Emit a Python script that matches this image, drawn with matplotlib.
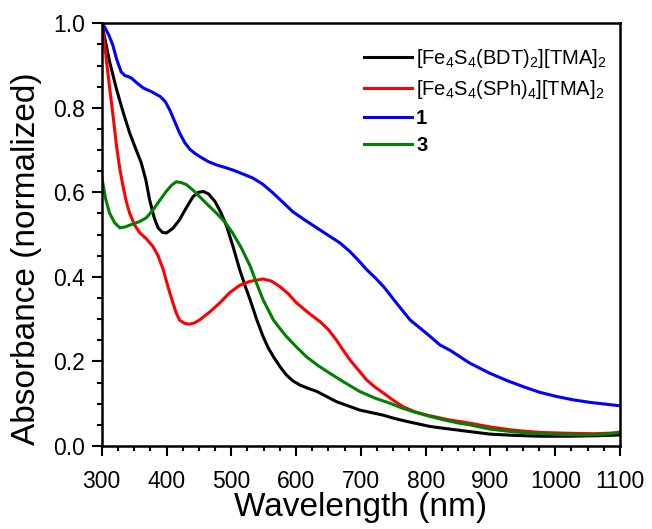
import matplotlib
matplotlib.use('Agg')
import matplotlib.pyplot as plt
from matplotlib.ticker import MultipleLocator

plt.rcParams['font.family'] = ['Liberation Sans', 'DejaVu Sans']
plt.rcParams['mathtext.fontset'] = 'custom'
plt.rcParams['mathtext.rm'] = 'Liberation Sans'
plt.rcParams['mathtext.bf'] = 'Liberation Sans:bold'

# Spectra (wavelength in nm, normalized absorbance)
bdt_wl = [300, 302, 312, 323, 333, 343, 352, 361, 368, 374, 381, 387, 394, 400, 410,
          420, 430, 441, 449, 457, 465, 475, 484, 493, 503, 513, 521, 529, 539, 549,
          557, 565, 575, 585, 595, 606, 619, 632, 647, 662, 680, 698, 716, 734, 752,
          771, 789, 807, 837, 868, 899, 937, 976, 1020, 1060, 1100]
bdt_abs = [1.0, 0.985, 0.91, 0.843, 0.79, 0.741, 0.705, 0.670, 0.630, 0.582, 0.540, 0.516,
           0.505, 0.504, 0.515, 0.535, 0.562, 0.590, 0.600, 0.602, 0.596, 0.578, 0.552,
           0.519, 0.470, 0.417, 0.380, 0.346, 0.300, 0.259, 0.232, 0.211, 0.188, 0.168,
           0.154, 0.144, 0.136, 0.129, 0.117, 0.105, 0.095, 0.085, 0.079, 0.073, 0.065,
           0.058, 0.052, 0.046, 0.040, 0.034, 0.028, 0.025, 0.023, 0.023, 0.024, 0.026]

sph_wl = [300, 306, 312, 318, 323, 328, 333, 338, 343, 351, 359, 369, 379, 387, 395,
          402, 410, 415, 420, 428, 435, 443, 451, 466, 482, 497, 513, 528, 538, 549,
          562, 575, 588, 601, 619, 637, 650, 662, 672, 683, 696, 709, 722, 735, 750,
          765, 783, 802, 835, 868, 899, 937, 976, 1020, 1060, 1100]
sph_abs = [1.0, 0.93, 0.85, 0.775, 0.708, 0.655, 0.614, 0.578, 0.551, 0.522, 0.504, 0.490,
           0.472, 0.450, 0.417, 0.378, 0.338, 0.315, 0.298, 0.290, 0.288, 0.291, 0.298,
           0.316, 0.338, 0.362, 0.380, 0.389, 0.392, 0.395, 0.390, 0.377, 0.360, 0.338,
           0.315, 0.294, 0.275, 0.251, 0.228, 0.204, 0.180, 0.156, 0.139, 0.125, 0.108,
           0.093, 0.081, 0.073, 0.062, 0.054, 0.045, 0.037, 0.032, 0.030, 0.029, 0.031]

c1_wl = [300, 305, 311, 317, 323, 330, 336, 341, 346, 355, 364, 377, 390, 398, 405,
         412, 420, 428, 436, 444, 451, 464, 477, 490, 502, 517, 533, 548, 564, 580,
         595, 613, 632, 650, 668, 683, 698, 709, 722, 735, 755, 776, 792, 807, 822,
         838, 853, 868, 899, 925, 951, 976, 1002, 1028, 1054, 1077, 1100]
c1_abs = [1.0, 0.99, 0.972, 0.949, 0.915, 0.885, 0.876, 0.874, 0.870, 0.858, 0.847, 0.838,
          0.827, 0.815, 0.795, 0.770, 0.741, 0.718, 0.702, 0.692, 0.685, 0.673, 0.665,
          0.659, 0.653, 0.644, 0.634, 0.620, 0.599, 0.576, 0.554, 0.535, 0.516, 0.498,
          0.480, 0.460, 0.436, 0.417, 0.398, 0.377, 0.338, 0.298, 0.278, 0.259, 0.239,
          0.226, 0.211, 0.196, 0.172, 0.155, 0.140, 0.127, 0.117, 0.109, 0.103, 0.099,
          0.095]

c3_wl = [300, 306, 312, 320, 328, 336, 344, 352, 360, 369, 380, 390, 400, 408, 415,
         423, 431, 441, 451, 464, 477, 490, 502, 515, 529, 539, 549, 557, 565, 575,
         585, 600, 616, 634, 652, 675, 698, 722, 745, 763, 781, 804, 827, 848, 868,
         899, 937, 976, 1015, 1054, 1080, 1100]
c3_abs = [0.637, 0.585, 0.551, 0.528, 0.516, 0.518, 0.523, 0.527, 0.532, 0.540, 0.560,
          0.582, 0.603, 0.617, 0.625, 0.623, 0.618, 0.605, 0.590, 0.570, 0.551, 0.530,
          0.504, 0.470, 0.426, 0.385, 0.346, 0.322, 0.298, 0.278, 0.259, 0.235, 0.211,
          0.190, 0.172, 0.150, 0.129, 0.113, 0.101, 0.090, 0.081, 0.071, 0.062, 0.055,
          0.050, 0.040, 0.033, 0.029, 0.027, 0.026, 0.028, 0.033]

labels = [r'[Fe$_4$S$_4$(BDT)$_2$][TMA]$_2$',
          r'[Fe$_4$S$_4$(SPh)$_4$][TMA]$_2$',
          '1', '3']
colors = ['black', 'red', 'blue', 'green']

fig = plt.figure(figsize=(6.52, 5.29), dpi=100)
ax = fig.add_axes([0.156, 0.157, 0.795, 0.799])

series = [(bdt_wl, bdt_abs), (sph_wl, sph_abs), (c1_wl, c1_abs), (c3_wl, c3_abs)]
for (wl, ab), lab, col in zip(series, labels, colors):
    ax.plot(wl, ab, color=col, lw=2.2, label=lab)

ax.set_xlim(300, 1100)
ax.set_ylim(0.0, 1.0)
ax.xaxis.set_major_locator(MultipleLocator(100))
ax.xaxis.set_minor_locator(MultipleLocator(25))
ax.yaxis.set_major_locator(MultipleLocator(0.2))
ax.yaxis.set_minor_locator(MultipleLocator(0.05))
ax.tick_params(which='both', direction='out', width=1.5, labelsize=16.5)
ax.tick_params(which='major', length=7)
ax.tick_params(which='minor', length=3.8)
ax.tick_params(axis='x', which='major', pad=10)
ax.tick_params(axis='y', which='major', pad=5)
for sp in ax.spines.values():
    sp.set_linewidth(1.8)

ax.set_xlabel('Wavelength (nm)', fontsize=24)
ax.set_ylabel('Absorbance (normalized)', fontsize=24)
ax.xaxis.set_label_coords(0.5, -0.108)
ax.yaxis.set_label_coords(-0.115, 0.442)

leg = ax.legend(loc='upper left', bbox_to_anchor=(0.49, 0.963), frameon=False,
                fontsize=14.5, handlelength=2.4, handletextpad=0.2, labelspacing=0.4,
                borderaxespad=0)
for t in leg.get_texts()[2:]:
    t.set_fontweight('bold')

fig.savefig('out.png', dpi=100)
